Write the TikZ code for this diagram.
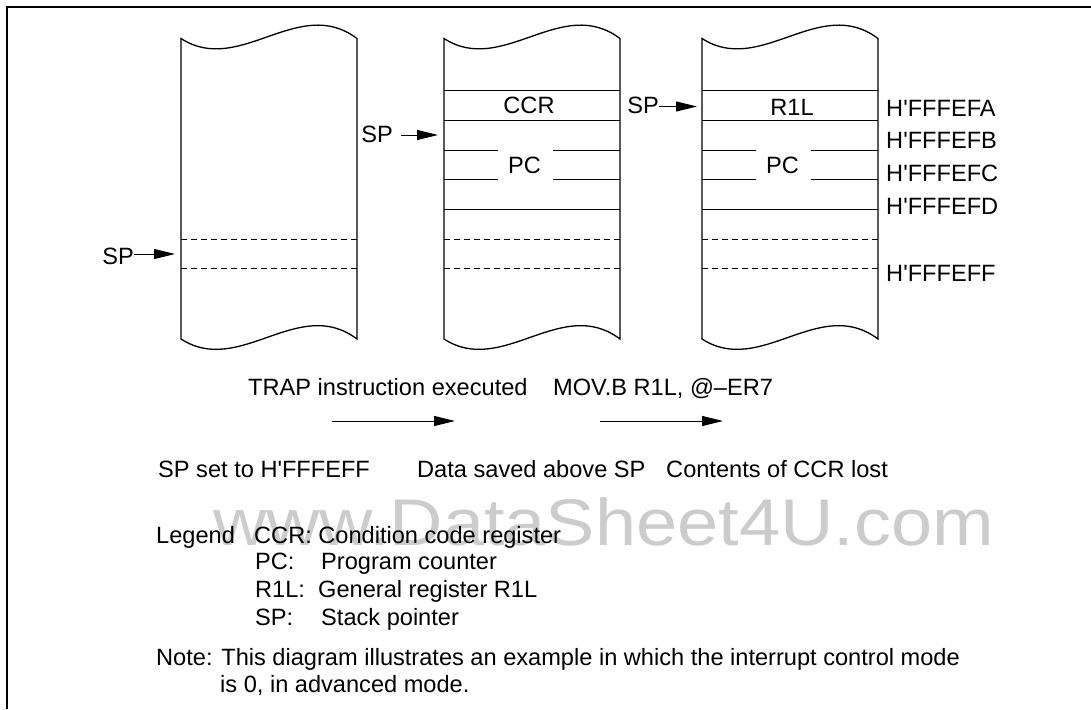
\documentclass[tikz,border=0pt]{standalone}
\usepackage{fontspec}
\setmainfont{Liberation Sans}[Ligatures=TeXOff]
\usetikzlibrary{arrows.meta, positioning, calc}

\begin{document}
\begin{tikzpicture}[x=1pt, y=-1pt,
    txt/.style={inner sep=0pt, font=\fontsize{23.6}{28}\selectfont},
    lbl/.style={txt, anchor=base west},
    col/.style={line width=1.3pt},
    row/.style={line width=1pt},
    dashrow/.style={row, dash pattern=on 6pt off 4pt},
    ptr/.style={line width=1pt, -{Triangle[length=21pt, width=10pt]}}]
    \useasboundingbox (0,0) rectangle (1091,709);
    \draw[line width=1.5pt] (7,709) -- (7,7) -- (1091,7);
    \node[lbl, text=black!20, font=\fontsize{66}{72}\selectfont] (wm) at (213,545)
        {\scalebox{1.12}[1]{www.DataSheet4U.com}};
    \foreach \L in {181, 444, 702} {
        \draw[col] (\L,38.5) .. controls (\L+58.7,76.5) and (\L+117.3,-5.5) .. (\L+176,38.5)
            -- (\L+176,339) .. controls (\L+117.3,295) and (\L+58.7,377) .. (\L,339) -- cycle;
        \draw[dashrow] (\L,239) -- +(176,0) (\L,268.7) -- +(176,0);
    }
    \foreach \L in {444, 702} {
        \draw[row] (\L,90.7) -- +(176,0) (\L,120.3) -- +(176,0) (\L,209.3) -- +(176,0);
        \draw[row] (\L,150) -- +(54,0) (\L+109,150) -- +(67,0)
            (\L,179.7) -- +(54,0) (\L+109,179.7) -- +(67,0);
        \node[txt] (pc\L) at (\L+80.5,165) {PC};
    }
    \node[txt] (ccr) at (529,105.5) {CCR};
    \node[txt] (r1l) at (792,107.5) {R1L};
    \node[lbl, anchor=base east] (sp1) at (134,264) {SP};
    \node[lbl, anchor=base east] (sp2) at (393,142) {SP};
    \node[lbl, anchor=base east] (sp3) at (659,113) {SP};
    \coordinate (c1p) at (175,254);
    \coordinate (c2p) at (438,135);
    \coordinate (c3p) at (697,106.5);
    \draw[ptr] (sp1.east |- c1p) -- (c1p);
    \draw[ptr] ([xshift=8pt]sp2.east |- c2p) -- (c2p);
    \draw[ptr] (sp3.east |- c3p) -- (c3p);
    \foreach \a/\y in {A/108.5, B/140.3, C/173.5, D/206.5, F/273.5}
        \node[lbl] (h\a) at (886,\y+8.4) {H'FFFEF\a};
    \node[lbl] (trap) at (248,395) {TRAP instruction executed};
    \node[lbl] (mov) at (553,395) {MOV.B R1L, @–ER7};
    \coordinate (a1s) at (332,421);
    \coordinate (a1e) at (455,421);
    \coordinate (a2s) at (600,421);
    \coordinate (a2e) at (723,421);
    \draw[ptr] (a1s) -- (a1e);
    \draw[ptr] (a2s) -- (a2e);
    \node[lbl] (set) at (158,477) {SP set to H'FFFEFF};
    \node[lbl] (saved) at (417,477) {Data saved above SP};
    \node[lbl] (lost) at (666,477) {Contents of CCR lost};
    \node[lbl] (leg) at (156,543) {Legend};
    \node[lbl] (kccr) at (254,543) {CCR: Condition code register};
    \node[lbl] (kpc) at (255,569.5) {PC:};
    \node[lbl] (tpc) at (321,569.5) {Program counter};
    \node[lbl] (kr1l) at (255,597.5) {R1L:};
    \node[lbl] (tr1l) at (318,597.5) {General register R1L};
    \node[lbl] (ksp) at (255,625.5) {SP:};
    \node[lbl] (tsp) at (321,625.5) {Stack pointer};
    \node[lbl] (note) at (156,665.5) {Note: This diagram illustrates an example in which the interrupt control mode};
    \node[lbl] (note2) at (220,692.5) {is 0, in advanced mode.};
\end{tikzpicture}
\end{document}
